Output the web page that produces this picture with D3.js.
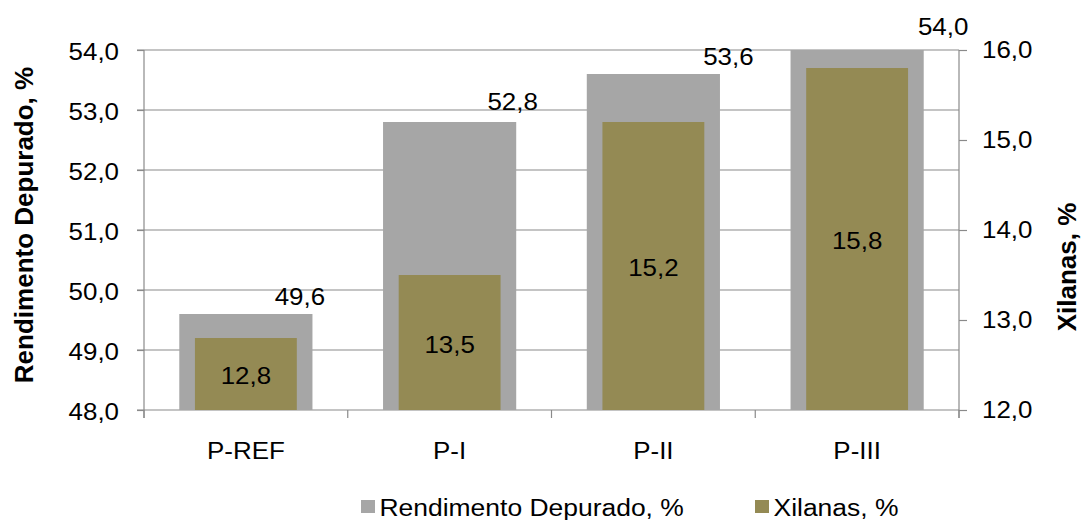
<!DOCTYPE html>
<html>
<head>
<meta charset="utf-8">
<script src="https://cdn.jsdelivr.net/npm/d3@7"></script>
<style>
  html, body { margin: 0; padding: 0; background: #fff; }
  svg { display: block; font-family: "Liberation Sans", Arial, sans-serif; }
</style>
</head>
<body>
<svg id="chart" width="1083" height="520"></svg>
<script>
// Pulp samples
const categories = ["P-REF", "P-I", "P-II", "P-III"];
// Screened yield, % (left axis)
const rendimento = [49.6, 52.8, 53.6, 54.0];
// Xylans, % (right axis)
const xilanas = [12.8, 13.5, 15.2, 15.8];
// Axis ticks
const leftTicks = [48, 49, 50, 51, 52, 53, 54];
const rightTicks = [12, 13, 14, 15, 16];
const seriesNames = ["Rendimento Depurado, %", "Xilanas, %"];

// Layout nudges for the yield labels (outside-end placement)
const labelDx = [54, 63, 75, 86];
const labelDy = [-17, -20, -17, -23];

const fmt = v => d3.format(".1f")(v).replace(".", ",");

const svg = d3.select("#chart");
const plot = { left: 144, right: 959, top: 50, bottom: 410 };
const gridColor = "#8a8a8a";
const grayFill = "#a6a6a6";
const oliveFill = "#948a54";
const FS = 24;        // label font size
const SX = 1.08;      // horizontal widening of the label face

const x = d3.scaleBand().domain(categories).range([plot.left, plot.right]).paddingInner(0).paddingOuter(0);
const yL = d3.scaleLinear().domain([48, 54]).range([plot.bottom, plot.top]);
const yR = d3.scaleLinear().domain([12, 16]).range([plot.bottom, plot.top]);

// Draws a horizontally widened text label at (px, py)
function label(g, px, py, txt, anchor, size) {
  return g.append("text")
    .attr("transform", `translate(${px},${py}) scale(${SX},1)`)
    .attr("text-anchor", anchor)
    .attr("dy", "0.35em")
    .attr("font-size", size || FS)
    .attr("fill", "#000")
    .text(txt);
}

// Horizontal gridlines
svg.append("g").selectAll("line").data(leftTicks).join("line")
  .attr("x1", plot.left - 7).attr("x2", plot.right)
  .attr("y1", d => yL(d)).attr("y2", d => yL(d))
  .attr("stroke", gridColor).attr("stroke-width", 1.2);

// Left axis (ticks only; labels drawn below)
const leftAxis = svg.append("g").attr("transform", `translate(${plot.left},0)`)
  .call(d3.axisLeft(yL).tickValues(leftTicks).tickFormat("").tickSize(7));
leftAxis.select(".domain").remove();
leftAxis.selectAll("line").attr("stroke", gridColor).attr("stroke-width", 1.2);
const leftLabels = svg.append("g");
leftTicks.forEach(t => label(leftLabels, 119, yL(t) + 2, fmt(t), "end"));
svg.append("line").attr("x1", plot.left).attr("x2", plot.left)
  .attr("y1", plot.top).attr("y2", plot.bottom + 8)
  .attr("stroke", gridColor).attr("stroke-width", 1.2);

// Right axis
const rightAxis = svg.append("g").attr("transform", `translate(${plot.right},0)`)
  .call(d3.axisRight(yR).tickValues(rightTicks).tickFormat("").tickSize(8));
rightAxis.select(".domain").remove();
rightAxis.selectAll("line").attr("stroke", gridColor).attr("stroke-width", 1.2);
const rightLabels = svg.append("g");
rightTicks.forEach(t => label(rightLabels, 982, yR(t), fmt(t), "start"));
svg.append("line").attr("x1", plot.right).attr("x2", plot.right)
  .attr("y1", plot.top).attr("y2", plot.bottom + 8)
  .attr("stroke", gridColor).attr("stroke-width", 1.2);

// Category axis tick marks at band boundaries
const bounds = categories.map(c => x(c)).concat([plot.right]);
svg.append("g").selectAll("line").data(bounds).join("line")
  .attr("x1", d => d).attr("x2", d => d)
  .attr("y1", plot.bottom).attr("y2", plot.bottom + 8)
  .attr("stroke", gridColor).attr("stroke-width", 1.2);
const catLabels = svg.append("g");
categories.forEach(c => label(catLabels, x(c) + x.bandwidth() / 2, 450.5, c, "middle"));

// Yield bars (wide, grey)
const wideW = x.bandwidth() / 1.53;
svg.append("g").selectAll("rect").data(rendimento).join("rect")
  .attr("x", (d, i) => x(categories[i]) + (x.bandwidth() - wideW) / 2)
  .attr("width", wideW)
  .attr("y", d => yL(d))
  .attr("height", d => yL(48) - yL(d))
  .attr("fill", grayFill);

// Xylan bars (narrow, olive) on the secondary axis
const narrowW = x.bandwidth() / 2;
svg.append("g").selectAll("rect").data(xilanas).join("rect")
  .attr("x", (d, i) => x(categories[i]) + (x.bandwidth() - narrowW) / 2)
  .attr("width", narrowW)
  .attr("y", d => yR(d))
  .attr("height", d => yR(12) - yR(d))
  .attr("fill", oliveFill);

// Value labels
const valLabels = svg.append("g");
rendimento.forEach((d, i) =>
  label(valLabels, x(categories[i]) + x.bandwidth() / 2 + labelDx[i], yL(d) + labelDy[i], fmt(d), "middle"));
xilanas.forEach((d, i) =>
  label(valLabels, x(categories[i]) + x.bandwidth() / 2, (yR(d) + yR(12)) / 2 + 2, fmt(d), "middle"));

// Axis titles
svg.append("text")
  .attr("transform", "translate(33,225) rotate(-90)")
  .attr("text-anchor", "middle").attr("font-size", 26).attr("font-weight", "bold")
  .attr("fill", "#000").text(seriesNames[0]);
svg.append("text")
  .attr("transform", "translate(1076,267) rotate(-90)")
  .attr("text-anchor", "middle").attr("font-size", 26).attr("font-weight", "bold")
  .attr("fill", "#000").text(seriesNames[1]);

// Legend
const legendItems = [
  { name: seriesNames[0], color: grayFill, x: 361 },
  { name: seriesNames[1], color: oliveFill, x: 755 }
];
const lg = svg.append("g");
legendItems.forEach(d => {
  lg.append("rect").attr("x", d.x).attr("y", 500).attr("width", 14).attr("height", 13)
    .attr("fill", d.color);
  lg.append("text")
    .attr("transform", `translate(${d.x + 18.5},516) scale(${SX},1)`)
    .attr("font-size", 24.5).attr("fill", "#000").text(d.name);
});
</script>
</body>
</html>
